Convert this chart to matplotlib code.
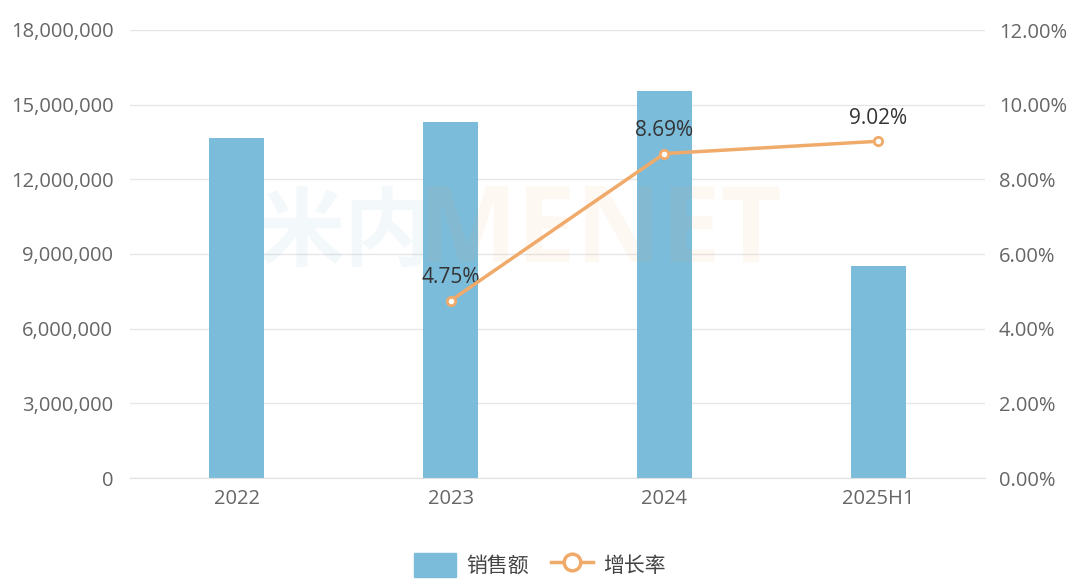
import matplotlib.pyplot as plt
from matplotlib.ticker import FuncFormatter
from matplotlib.lines import Line2D
from matplotlib.patches import FancyBboxPatch
import numpy as np

# data
years = ['2022', '2023', '2024', '2025H1']
sales = [13660000, 14300000, 15550000, 8520000]
growth_years = ['2023', '2024', '2025H1']
growth = [4.75, 8.69, 9.02]

bar_color = '#7BBCDA'
line_color = '#F0AA6A'
tick_color = '#666666'

plt.rcParams['font.family'] = ['Open Sans', 'Noto Sans CJK SC', 'DejaVu Sans']

fig = plt.figure(figsize=(10.8, 5.84), dpi=100)
ax = fig.add_axes([130/1080, 106/584, 855/1080, 448/584])
ax2 = ax.twinx()

x = np.arange(len(years))
ax.bar(x, sales, width=0.257, color=bar_color, zorder=2)
ax.set_xlim(-0.5, len(years) - 0.5)
ax.set_ylim(0, 18000000)
ax.set_yticks(np.arange(0, 18000001, 3000000))
ax.yaxis.set_major_formatter(FuncFormatter(lambda v, p: f'{int(v):,}'))
ax.set_xticks(x)
ax.set_xticklabels(years)
ax.grid(axis='y', color='#E6E6E6', linewidth=1, zorder=0)
ax.set_axisbelow(True)

gx = [years.index(g) for g in growth_years]
ax2.plot(gx, growth, color=line_color, linewidth=2.5, marker='o', markersize=6,
         markerfacecolor='white', markeredgecolor=line_color, markeredgewidth=2, zorder=5)
for xi, g in zip(gx, growth):
    ax2.annotate(f'{g:.2f}%', (xi, g), xytext=(0, 9), textcoords='offset points',
                 ha='center', va='bottom', fontsize=15, color='#333333')
ax2.set_ylim(0, 12)
ax2.set_yticks(np.arange(0, 12.01, 2))
ax2.yaxis.set_major_formatter(FuncFormatter(lambda v, p: f'{v:.2f}%'))

for a in (ax, ax2):
    for s in a.spines.values():
        s.set_visible(False)
    a.tick_params(length=0, labelsize=14.5, labelcolor=tick_color)
ax.spines['bottom'].set_visible(True)
ax.spines['bottom'].set_color('#E0E0E0')
ax.tick_params(axis='x', pad=8)
ax.tick_params(axis='y', pad=12)
ax2.tick_params(axis='y', pad=10)

# watermark
fig.text(0.32, 0.6, '米内', fontsize=62, fontweight='bold', color='#8CC3DA', alpha=0.1,
         ha='center', va='center', family=['Noto Sans CJK SC'])
fig.text(0.555, 0.6, 'MENET', fontsize=76, fontweight='bold', color='#F5A060', alpha=0.07,
         ha='center', va='center')

# legend
handles = [FancyBboxPatch((0, 0), 1, 1, color=bar_color),
           Line2D([0], [0], color=line_color, linewidth=2.5, marker='o', markersize=12,
                  markerfacecolor='white', markeredgecolor=line_color, markeredgewidth=2.5)]
fig.legend(handles, ['销售额', '增长率'], loc='center', bbox_to_anchor=(0.5, 0.033),
           ncol=2, frameon=False, fontsize=15, labelcolor='#444444',
           handlelength=2.0, handleheight=1.4, columnspacing=1.1, handletextpad=0.5)

fig.savefig('out.png', dpi=100)
